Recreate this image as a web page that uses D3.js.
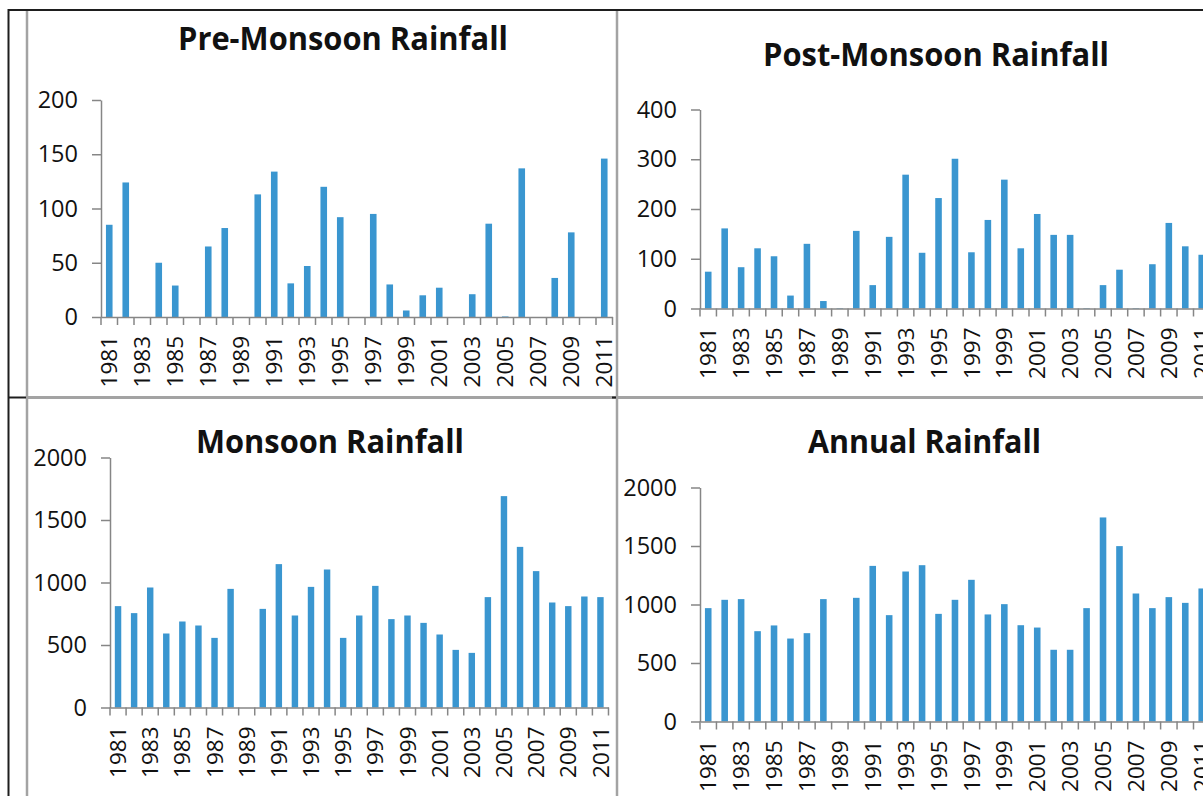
<!DOCTYPE html>
<html>
<head>
<meta charset="utf-8">
<script src="https://cdn.jsdelivr.net/npm/d3@7/dist/d3.min.js"></script>
<style>
  html, body { margin: 0; padding: 0; background: #ffffff; overflow: hidden; }
  svg { display: block; }
</style>
</head>
<body>
<svg id="chart" width="1203" height="796"></svg>
<script>
// ---------------- DATA ----------------
const years = ["1981","1982","1983","1984","1985","1986","1987","1988","1989","1990",
               "1991","1992","1993","1994","1995","1996","1997","1998","1999","2000",
               "2001","2002","2003","2004","2005","2006","2007","2008","2009","2010","2011"];
const yearLabels = ["1981","1983","1985","1987","1989","1991","1993","1995","1997","1999",
                    "2001","2003","2005","2007","2009","2011"];

const preMonsoon  = [85,124,0,50,29,0,65,82,0,113,134,31,47,120,92,0,95,30,6,20,27,0,21,86,0.5,137,0,36,78,0,146];
const postMonsoon = [74,161,83,121,105,26,130,15,1,156,47,144,269,112,222,301,113,178,259,121,190,148,148,1,47,78,1,89,172,125,108];
const monsoon     = [811,755,960,592,688,656,557,949,0,789,1147,736,965,1104,557,736,973,707,736,677,584,461,437,883,1691,1285,1091,840,811,888,883];
const annual      = [969,1040,1046,772,821,709,755,1046,0,1057,1330,909,1282,1336,920,1040,1211,915,1003,823,803,613,613,969,1744,1499,1094,969,1063,1014,1137];

const preTicks  = [0,50,100,150,200];
const postTicks = [0,100,200,300,400];
const monTicks  = [0,500,1000,1500,2000];
const annTicks  = [0,500,1000,1500,2000];

const titles = ["Pre-Monsoon Rainfall","Post-Monsoon Rainfall","Monsoon Rainfall","Annual Rainfall"];

// ---------------- LAYOUT ----------------
const svg = d3.select("#chart");
const BAR = "#3a96d0", AXIS = "#868686", FRAME = "#a3a3a3", TXT = "#111111";
const TICK_FONT = "'Open Sans', 'Liberation Sans', sans-serif";
const YTICK_SIZE = "23.5px";
const XTICK_SIZE = "22.5px";

const panels = [
  { title: titles[0], values: preMonsoon,  ticks: preTicks,  axisX: 101, step: 16.5,  zeroY: 317,   topY: 100,   titleX: 343,   titleY: 50,  titleW: 330 },
  { title: titles[1], values: postMonsoon, ticks: postTicks, axisX: 700, step: 16.45, zeroY: 308.5, topY: 109.5, titleX: 936,   titleY: 66,  titleW: 346 },
  { title: titles[2], values: monsoon,     ticks: monTicks,  axisX: 110, step: 16.08, zeroY: 707.5, topY: 457.5, titleX: 330,   titleY: 453, titleW: 268 },
  { title: titles[3], values: annual,      ticks: annTicks,  axisX: 700, step: 16.45, zeroY: 721.5, topY: 487.5, titleX: 924.5, titleY: 453, titleW: 233 }
];

panels.forEach(p => {
  const g = svg.append("g");
  const x = d3.scaleBand()
    .domain(years)
    .range([p.axisX, p.axisX + p.step * years.length])
    .paddingInner(0.6)
    .paddingOuter(0.3);
  const y = d3.scaleLinear()
    .domain([p.ticks[0], p.ticks[p.ticks.length - 1]])
    .range([p.zeroY, p.topY]);

  // bars
  g.append("g").selectAll("rect")
    .data(years.map((yr, i) => ({ yr, v: p.values[i] })))
    .join("rect")
    .attr("x", d => x(d.yr))
    .attr("width", x.bandwidth())
    .attr("y", d => y(d.v))
    .attr("height", d => Math.max(0, y(0) - y(d.v)))
    .attr("fill", BAR);

  // y axis
  const ya = g.append("g")
    .attr("transform", `translate(${p.axisX},0)`)
    .call(d3.axisLeft(y).tickValues(p.ticks).tickFormat(d3.format("d")).tickSize(9).tickSizeOuter(0).tickPadding(14));
  ya.select(".domain").attr("stroke", AXIS).attr("stroke-width", 1.5);
  ya.selectAll(".tick line").attr("stroke", AXIS).attr("stroke-width", 1.5);
  ya.selectAll(".tick text")
    .attr("fill", TXT)
    .style("font-family", TICK_FONT)
    .style("font-size", YTICK_SIZE);

  // x axis: labels
  const xa = g.append("g")
    .attr("transform", `translate(0,${p.zeroY})`)
    .call(d3.axisBottom(x).tickValues(yearLabels).tickSize(0).tickSizeOuter(0));
  xa.select(".domain").attr("stroke", AXIS).attr("stroke-width", 1.5);
  xa.selectAll(".tick text")
    .attr("transform", "rotate(-90)")
    .attr("text-anchor", "end")
    .attr("x", -19)
    .attr("y", 0)
    .attr("dy", "0.36em")
    .attr("fill", TXT)
    .style("font-family", TICK_FONT)
    .style("font-size", XTICK_SIZE);

  // x axis: tick marks at category boundaries
  const half = (x.step() - x.bandwidth()) / 2;
  const bounds = years.map(yr => x(yr) - half).concat([x(years[years.length - 1]) + x.bandwidth() + half]);
  g.append("g").selectAll("line")
    .data(bounds)
    .join("line")
    .attr("x1", d => d).attr("x2", d => d)
    .attr("y1", p.zeroY).attr("y2", p.zeroY + 8)
    .attr("stroke", AXIS).attr("stroke-width", 1.5);

  // title
  g.append("text")
    .attr("x", p.titleX)
    .attr("y", p.titleY)
    .attr("text-anchor", "middle")
    .attr("textLength", p.titleW)
    .attr("lengthAdjust", "spacingAndGlyphs")
    .attr("fill", TXT)
    .style("font-family", "'Open Sans', 'Liberation Sans', sans-serif")
    .style("font-weight", "700")
    .style("font-size", "32px")
    .text(p.title);
});

// ---------------- FRAME LINES ----------------
const frame = svg.append("g");
// gray panel borders
frame.append("line").attr("x1", 27).attr("x2", 27).attr("y1", 10).attr("y2", 796).attr("stroke", FRAME).attr("stroke-width", 2.5);
frame.append("line").attr("x1", 617).attr("x2", 617).attr("y1", 10).attr("y2", 796).attr("stroke", FRAME).attr("stroke-width", 2.5);
frame.append("line").attr("x1", 27).attr("x2", 1203).attr("y1", 397.5).attr("y2", 397.5).attr("stroke", FRAME).attr("stroke-width", 3);
// black table borders
frame.append("line").attr("x1", 8).attr("x2", 1203).attr("y1", 10).attr("y2", 10).attr("stroke", "#1e1e1e").attr("stroke-width", 2);
frame.append("line").attr("x1", 8.5).attr("x2", 8.5).attr("y1", 9).attr("y2", 796).attr("stroke", "#1e1e1e").attr("stroke-width", 2);
frame.append("line").attr("x1", 8).attr("x2", 26).attr("y1", 397.5).attr("y2", 397.5).attr("stroke", "#1e1e1e").attr("stroke-width", 2);
frame.append("line").attr("x1", 612).attr("x2", 616).attr("y1", 397.5).attr("y2", 397.5).attr("stroke", "#1e1e1e").attr("stroke-width", 2);
</script>
</body>
</html>
